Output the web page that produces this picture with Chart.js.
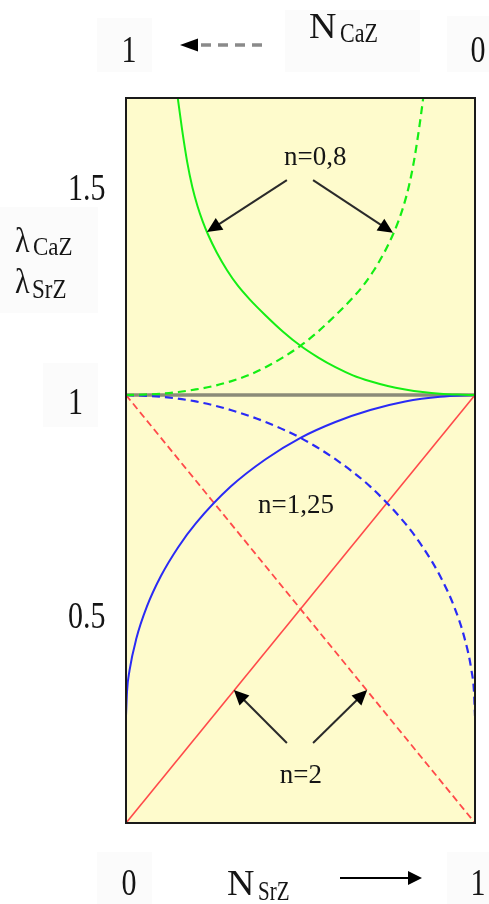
<!DOCTYPE html>
<html>
<head>
<meta charset="utf-8">
<script src="https://cdn.jsdelivr.net/npm/chart.js@4/dist/chart.umd.min.js"></script>
<style>
html,body{margin:0;padding:0;background:#ffffff;}
canvas{display:block;}
</style>
</head>
<body>
<canvas id="c" width="489" height="904"></canvas>
<script>
// ---- data ----
// x = N_SrZ (mole fraction), y = lambda
const nSrRed = [0, 1];
const lamSrRed = [0, 1];          // n=2, solid (lambda SrZ)
const lamCaRed = [1, 0];          // n=2, dashed (lambda CaZ)

const nSrBlue = [0, 0.003, 0.01, 0.03, 0.06, 0.1, 0.15, 0.2, 0.3, 0.4, 0.5, 0.6, 0.7, 0.8, 0.9, 1];
const lamSrBlue = [0.25, 0.308, 0.356, 0.432, 0.506, 0.577, 0.645, 0.70, 0.786, 0.85, 0.90, 0.937, 0.965, 0.985, 0.996, 1.0];
const nSrBlueDash = [0, 0.1, 0.2, 0.3, 0.4, 0.5, 0.6, 0.7, 0.8, 0.85, 0.9, 0.94, 0.97, 0.99, 0.997, 1];
const lamCaBlue = [1.0, 0.996, 0.985, 0.965, 0.937, 0.90, 0.85, 0.786, 0.70, 0.645, 0.577, 0.506, 0.432, 0.356, 0.308, 0.25];

const nSrGreen = [0.138, 0.149, 0.16, 0.175, 0.19, 0.205, 0.22, 0.235, 0.26, 0.29, 0.32, 0.355, 0.40, 0.45, 0.50, 0.55, 0.60, 0.65, 0.70, 0.75, 0.80, 0.85, 0.90, 0.95, 1];
const lamSrGreen = [1.76, 1.69, 1.624, 1.546, 1.486, 1.441, 1.405, 1.375, 1.333, 1.291, 1.256, 1.223, 1.186, 1.148, 1.115, 1.088, 1.065, 1.046, 1.032, 1.021, 1.013, 1.007, 1.003, 1.001, 1.0];
const nSrGreenDash = [0, 0.05, 0.10, 0.15, 0.20, 0.25, 0.30, 0.35, 0.40, 0.45, 0.50, 0.55, 0.60, 0.645, 0.68, 0.71, 0.74, 0.765, 0.78, 0.795, 0.81, 0.825, 0.84, 0.851, 0.862];
const lamCaGreen = [1.0, 1.001, 1.003, 1.007, 1.013, 1.021, 1.032, 1.046, 1.065, 1.088, 1.115, 1.148, 1.186, 1.223, 1.256, 1.291, 1.333, 1.375, 1.405, 1.441, 1.486, 1.546, 1.624, 1.69, 1.76];

const nSrRef = [0, 1];
const lamRef = [1, 1];

const xTicks = [0, 1];
const xTickLabels = ['0', '1'];      // N_SrZ (bottom)
const topTickLabels = ['1', '0'];    // N_CaZ (top)
const yTicks = [0.5, 1, 1.5];
const yTickLabels = ['0.5', '1', '1.5'];

const curveNotes = [
  {text: 'n=0,8', n: 0.542, l: 1.556},
  {text: 'n=1,25', n: 0.487, l: 0.741},
  {text: 'n=2', n: 0.501, l: 0.112}
];
const pointers = [
  [0.461, 1.502, 0.232, 1.381],
  [0.536, 1.502, 0.765, 1.379],
  [0.461, 0.187, 0.309, 0.311],
  [0.536, 0.187, 0.691, 0.311]
];

function pts(xs, ys) { return xs.map((x, i) => ({x: x, y: ys[i]})); }

const SERIF = '"Liberation Serif", "DejaVu Serif", serif';

function txt(ctx, s, x, y, size, sy, align, base, sx) {
  ctx.save();
  ctx.translate(x, y);
  ctx.scale(sx || 1, sy);
  ctx.font = size + 'px ' + SERIF;
  ctx.textAlign = align || 'left';
  ctx.textBaseline = base || 'alphabetic';
  ctx.fillStyle = '#151515';
  ctx.fillText(s, 0, 0);
  ctx.restore();
}

function arrow(ctx, x1, y1, x2, y2, headLen, headW, lineColor, lw, dash) {
  const dx = x2 - x1, dy = y2 - y1;
  const len = Math.hypot(dx, dy);
  const ux = dx / len, uy = dy / len;
  const bx = x2 - ux * headLen, by = y2 - uy * headLen;
  ctx.save();
  ctx.strokeStyle = lineColor;
  ctx.lineWidth = lw;
  if (dash) ctx.setLineDash(dash);
  ctx.beginPath();
  ctx.moveTo(x1, y1);
  ctx.lineTo(bx + ux * 1, by + uy * 1);
  ctx.stroke();
  ctx.setLineDash([]);
  ctx.fillStyle = '#000';
  ctx.beginPath();
  ctx.moveTo(x2, y2);
  ctx.lineTo(bx - uy * headW, by + ux * headW);
  ctx.lineTo(bx + uy * headW, by - ux * headW);
  ctx.closePath();
  ctx.fill();
  ctx.restore();
}

const deco = {
  id: 'deco',
  beforeDraw(chart) {
    const ctx = chart.ctx, a = chart.chartArea;
    ctx.save();
    ctx.fillStyle = '#ffffff';
    ctx.fillRect(0, 0, chart.width, chart.height);
    // very faint label panels
    ctx.fillStyle = '#fbfbfb';
    ctx.fillRect(97, 18, 55, 54);
    ctx.fillRect(285, 10, 135, 62);
    ctx.fillRect(447, 16, 42, 56);
    ctx.fillRect(0, 207, 98, 106);
    ctx.fillRect(43, 363, 55, 64);
    ctx.fillRect(97, 852, 55, 52);
    ctx.fillRect(447, 852, 42, 52);
    ctx.fillStyle = '#fefbcc';
    ctx.fillRect(a.left, a.top, a.right - a.left, a.bottom - a.top);
    ctx.restore();
  },
  afterDatasetsDraw(chart) {
    const ctx = chart.ctx, a = chart.chartArea;
    const xs = chart.scales.x, ys = chart.scales.y;
    // frame
    ctx.save();
    ctx.strokeStyle = '#1a1a1a';
    ctx.lineWidth = 2;
    ctx.strokeRect(a.left, a.top, a.right - a.left, a.bottom - a.top);
    ctx.restore();
    // curve pointers
    pointers.forEach(p => {
      arrow(ctx, xs.getPixelForValue(p[0]), ys.getPixelForValue(p[1]),
            xs.getPixelForValue(p[2]), ys.getPixelForValue(p[3]), 15, 7, '#2a2a2a', 2);
    });
    curveNotes.forEach(nt => {
      txt(ctx, nt.text, xs.getPixelForValue(nt.n), ys.getPixelForValue(nt.l), 27, 1.05, 'center', 'middle');
    });
    // y tick labels (left aligned, as in the figure)
    yTicks.forEach((v, i) => {
      txt(ctx, yTickLabels[i], 68, ys.getPixelForValue(v) + 19, 30, 1.25, 'left');
    });
    // bottom and top tick labels
    xTicks.forEach((v, i) => {
      const px = xs.getPixelForValue(v) + 3;
      txt(ctx, xTickLabels[i], px, 895, 30, 1.25, 'center');
      txt(ctx, topTickLabels[i], px, 62, 30, 1.25, 'center');
    });
    // axis titles
    txt(ctx, 'N', 227, 895, 38, 0.95, 'left');
    txt(ctx, 'SrZ', 258, 900, 21, 1.35, 'left');
    arrow(ctx, 340, 878, 422, 878, 14, 7, '#000', 2);
    txt(ctx, 'N', 309, 38, 38, 0.95, 'left');
    txt(ctx, 'CaZ', 340, 42, 22, 1.25, 'left');
    arrow(ctx, 262, 45, 180, 45, 18, 6.5, '#8a8a8a', 3.5, [10, 7]);
    txt(ctx, '\u03bb', 15, 252, 30, 1.2, 'left');
    txt(ctx, 'CaZ', 33, 255, 23, 1.05, 'left');
    txt(ctx, '\u03bb', 15, 293, 30, 1.2, 'left');
    txt(ctx, 'SrZ', 32, 298, 23, 1.15, 'left');
  }
};

const common = {showLine: true, pointRadius: 0, pointHoverRadius: 0, fill: false};

new Chart(document.getElementById('c'), {
  type: 'scatter',
  data: {
    datasets: [
      Object.assign({label: 'n=0,8 SrZ', data: pts(nSrGreen, lamSrGreen), borderColor: '#14ee14', borderWidth: 2, cubicInterpolationMode: 'monotone'}, common),
      Object.assign({label: 'n=0,8 CaZ', data: pts(nSrGreenDash, lamCaGreen), borderColor: '#14ee14', borderWidth: 2.2, borderDash: [8, 5], cubicInterpolationMode: 'monotone'}, common),
      Object.assign({label: 'n=1,25 SrZ', data: pts(nSrBlue, lamSrBlue), borderColor: '#2a2af5', borderWidth: 2, cubicInterpolationMode: 'monotone'}, common),
      Object.assign({label: 'n=1,25 CaZ', data: pts(nSrBlueDash, lamCaBlue), borderColor: '#2a2af5', borderWidth: 2.2, borderDash: [8, 5], cubicInterpolationMode: 'monotone'}, common),
      Object.assign({label: 'n=2 SrZ', data: pts(nSrRed, lamSrRed), borderColor: '#ff4a4a', borderWidth: 1.6}, common),
      Object.assign({label: 'n=2 CaZ', data: pts(nSrRed, lamCaRed), borderColor: '#ff4a4a', borderWidth: 1.8, borderDash: [7, 4]}, common),
      Object.assign({label: 'ideal', data: pts(nSrRef, lamRef), borderColor: '#8b8b78', borderWidth: 3.5}, common)
    ]
  },
  options: {
    responsive: false,
    animation: false,
    events: [],
    layout: {padding: {left: 126, right: 14, top: 98, bottom: 81}},
    plugins: {legend: {display: false}, tooltip: {enabled: false}},
    scales: {
      x: {type: 'linear', min: 0, max: 1, display: false},
      y: {type: 'linear', min: 0, max: 1.694, display: false}
    }
  },
  plugins: [deco]
});
</script>
</body>
</html>
